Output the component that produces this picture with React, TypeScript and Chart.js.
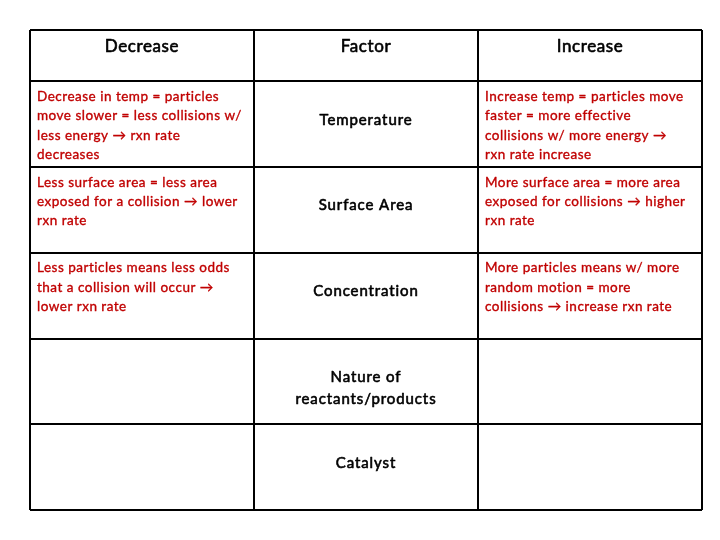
import React, { useEffect, useRef } from "react";
import { Chart, registerables } from "chart.js";

Chart.register(...registerables);

const columnHeaders = ["Decrease", "Factor", "Increase"];
// row extents in row units (the header row is shorter than the body rows)
const rowBoundaries = [0, 0.6, 1.6, 2.6, 3.6, 4.6, 5.6];
const factors = [
  ["Temperature"],
  ["Surface Area"],
  ["Concentration"],
  ["Nature of", "reactants/products"],
  ["Catalyst"],
];
const decreaseText = [
  ["Decrease in temp = particles", "move slower = less collisions w/", "less energy \u2192 rxn rate", "decreases"],
  ["Less surface area = less area", "exposed for a collision \u2192 lower", "rxn rate"],
  ["Less particles means less odds", "that a collision will occur \u2192", "lower rxn rate"],
  [],
  [],
];
const increaseText = [
  ["Increase temp = particles move", "faster = more effective", "collisions w/ more energy \u2192", "rxn rate increase"],
  ["More surface area = more area", "exposed for collisions \u2192 higher", "rxn rate"],
  ["More particles means w/ more", "random motion = more", "collisions \u2192 increase rxn rate"],
  [],
  [],
];

const FONT = "Lato, 'Open Sans', 'DejaVu Sans', sans-serif";
const RED = "#c00000";

function drawText(ctx: any, text: string, px: number, py: number, color: string, stroke: number) {
  ctx.fillStyle = color;
  ctx.fillText(text, px, py);
  if (stroke > 0) {
    ctx.strokeStyle = color;
    ctx.lineWidth = stroke;
    ctx.strokeText(text, px, py);
  }
}

const tableTextPlugin = {
  id: "tableText",
  afterDraw(chart: any) {
    const { ctx, scales } = chart;
    const x = scales.x;
    const y = scales.y;
    ctx.save();
    ctx.textBaseline = "middle";
    ctx.lineJoin = "round";

    // header row
    ctx.textAlign = "center";
    ctx.font = `17px ${FONT}`;
    ctx.letterSpacing = "0.6px";
    const headTop = y.getPixelForValue(rowBoundaries[0]);
    columnHeaders.forEach((h, i) => {
      drawText(ctx, h, x.getPixelForValue(i + 0.5), headTop + 17, "#000", 0.6);
    });

    for (let r = 0; r < factors.length; r++) {
      const top = y.getPixelForValue(rowBoundaries[r + 1]);
      // factor column
      ctx.textAlign = "center";
      ctx.font = `15px ${FONT}`;
      ctx.letterSpacing = "0.9px";
      factors[r].forEach((line, k) => {
        drawText(ctx, line, x.getPixelForValue(1.5), top + 38.5 + k * 22, "#000", 0.6);
      });
      // decrease / increase columns
      ctx.textAlign = "left";
      ctx.font = `13.5px ${FONT}`;
      ctx.letterSpacing = "0.5px";
      decreaseText[r].forEach((line, k) => {
        drawText(ctx, line, x.getPixelForValue(0) + 7, top + 15 + k * 19.4, RED, 0.35);
      });
      increaseText[r].forEach((line, k) => {
        drawText(ctx, line, x.getPixelForValue(2) + 7, top + 15 + k * 19.4, RED, 0.35);
      });
    }
    ctx.restore();
  },
};

export default function App() {
  const canvasRef = useRef<HTMLCanvasElement | null>(null);

  useEffect(() => {
    if (!canvasRef.current) return;
    const chart = new Chart(canvasRef.current, {
      type: "scatter",
      data: { datasets: [] },
      options: {
        animation: false,
        responsive: false,
        layout: { padding: { left: 30, right: 18, top: 30, bottom: 30 } },
        plugins: { legend: { display: false }, tooltip: { enabled: false } },
        scales: {
          x: {
            type: "linear",
            min: 0,
            max: 3,
            ticks: { stepSize: 1, display: false },
            grid: { color: "#000", lineWidth: 2, drawTicks: false },
            border: { display: false },
          },
          y: {
            type: "linear",
            reverse: true,
            min: rowBoundaries[0],
            max: rowBoundaries[rowBoundaries.length - 1],
            afterBuildTicks: (scale: any) => {
              scale.ticks = rowBoundaries.map((v) => ({ value: v }));
            },
            ticks: { display: false },
            grid: { color: "#000", lineWidth: 2, drawTicks: false },
            border: { display: false },
          },
        },
      },
      plugins: [tableTextPlugin],
    } as any);
    return () => chart.destroy();
  }, []);

  return (
    <div style={{ position: "absolute", left: 0, top: 0, width: 720, height: 540, background: "#fff" }}>
      <canvas ref={canvasRef} width={720} height={540} />
    </div>
  );
}
